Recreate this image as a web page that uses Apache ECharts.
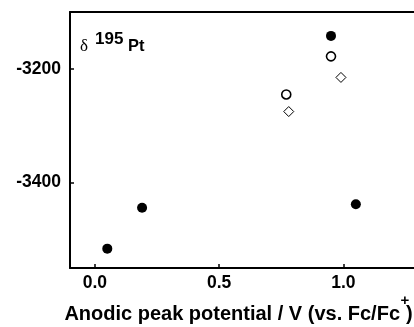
<!DOCTYPE html>
<html>
<head>
<meta charset="utf-8">
<script src="https://cdn.jsdelivr.net/npm/echarts@6/dist/echarts.min.js"></script>
<style>
html,body{margin:0;padding:0;background:#fff;overflow:hidden;}
#c{width:414px;height:327px;}
</style>
</head>
<body>
<div id="c"></div>
<script>
// Data
const filledX = [0.05, 0.19, 0.95, 1.05];
const filledY = [-3516, -3444, -3142, -3438];
const openX = [0.77, 0.95];
const openY = [-3245, -3178];
const diamondX = [0.78, 0.99];
const diamondY = [-3275, -3215];
const xTicks = [0, 0.5, 1.0];
const yTicks = [-3400, -3200];
const xTitle = 'Anodic peak potential / V (vs. Fc/Fc';

const pairs = (xs, ys) => xs.map((x, i) => [x, ys[i]]);
const font = 'Liberation Sans, Arial, sans-serif';

const chart = echarts.init(document.getElementById('c'), null, {renderer: 'canvas'});
chart.setOption({
  animation: false,
  backgroundColor: '#fff',
  grid: {left: 70, right: -4, top: 12, bottom: 59, show: false, containLabel: false, outerBoundsMode: 'none'},
  xAxis: [{
    type: 'value', min: -0.1, max: 1.3, position: 'bottom',
    axisLine: {show: true, onZero: false, lineStyle: {color: '#000', width: 2}},
    axisTick: {show: true, inside: true, length: 4, lineStyle: {color: '#000', width: 1.5}, customValues: xTicks},
    axisLabel: {color: '#000', fontFamily: font, fontWeight: 'bold', fontSize: 17.5, margin: 6,
      customValues: xTicks, formatter: v => v.toFixed(1)},
    splitLine: {show: false}
  }, {
    type: 'value', min: -0.1, max: 1.3, position: 'top',
    axisLine: {show: true, onZero: false, lineStyle: {color: '#000', width: 2}},
    axisTick: {show: false}, axisLabel: {show: false}, splitLine: {show: false}
  }],
  yAxis: {
    type: 'value', min: -3550, max: -3100,
    axisLine: {show: true, onZero: false, lineStyle: {color: '#000', width: 2}},
    axisTick: {show: true, inside: true, length: 4, lineStyle: {color: '#000', width: 1.5}, customValues: yTicks},
    axisLabel: {color: '#000', fontFamily: font, fontWeight: 'bold', fontSize: 17.5, margin: 9,
      customValues: yTicks, formatter: v => String(v)},
    splitLine: {show: false}
  },
  series: [
    {type: 'scatter', data: pairs(filledX, filledY), symbol: 'circle', symbolSize: 10,
      itemStyle: {color: '#000', opacity: 1}},
    {type: 'scatter', data: pairs(openX, openY), symbol: 'circle', symbolSize: 9,
      itemStyle: {color: '#fff', borderColor: '#000', borderWidth: 1.6, opacity: 1}},
    {type: 'scatter', data: pairs(diamondX, diamondY), symbol: 'diamond', symbolSize: 10,
      itemStyle: {color: '#fff', borderColor: '#000', borderWidth: 1, opacity: 1}}
  ],
  graphic: [
    {type: 'text', x: 80, y: 47, style: {text: 'δ', font: '17px "Liberation Serif", "DejaVu Serif", serif', fill: '#000', textVerticalAlign: 'middle'}},
    {type: 'text', x: 95, y: 39, style: {text: '195', font: 'bold 17px ' + font, fill: '#000', textVerticalAlign: 'middle'}},
    {type: 'text', x: 128, y: 46.5, style: {text: 'Pt', font: 'bold 16.5px ' + font, fill: '#000', textVerticalAlign: 'middle'}},
    {type: 'text', x: 400, y: 314, style: {text: xTitle, font: 'bold 20px ' + font, fill: '#000', textAlign: 'right', textVerticalAlign: 'middle'}},
    {type: 'text', x: 400.5, y: 301, style: {text: '+', font: 'bold 15px ' + font, fill: '#000', textVerticalAlign: 'middle'}},
    {type: 'text', x: 406, y: 314, style: {text: ')', font: 'bold 20px ' + font, fill: '#000', textVerticalAlign: 'middle'}}
  ]
});
</script>
</body>
</html>
